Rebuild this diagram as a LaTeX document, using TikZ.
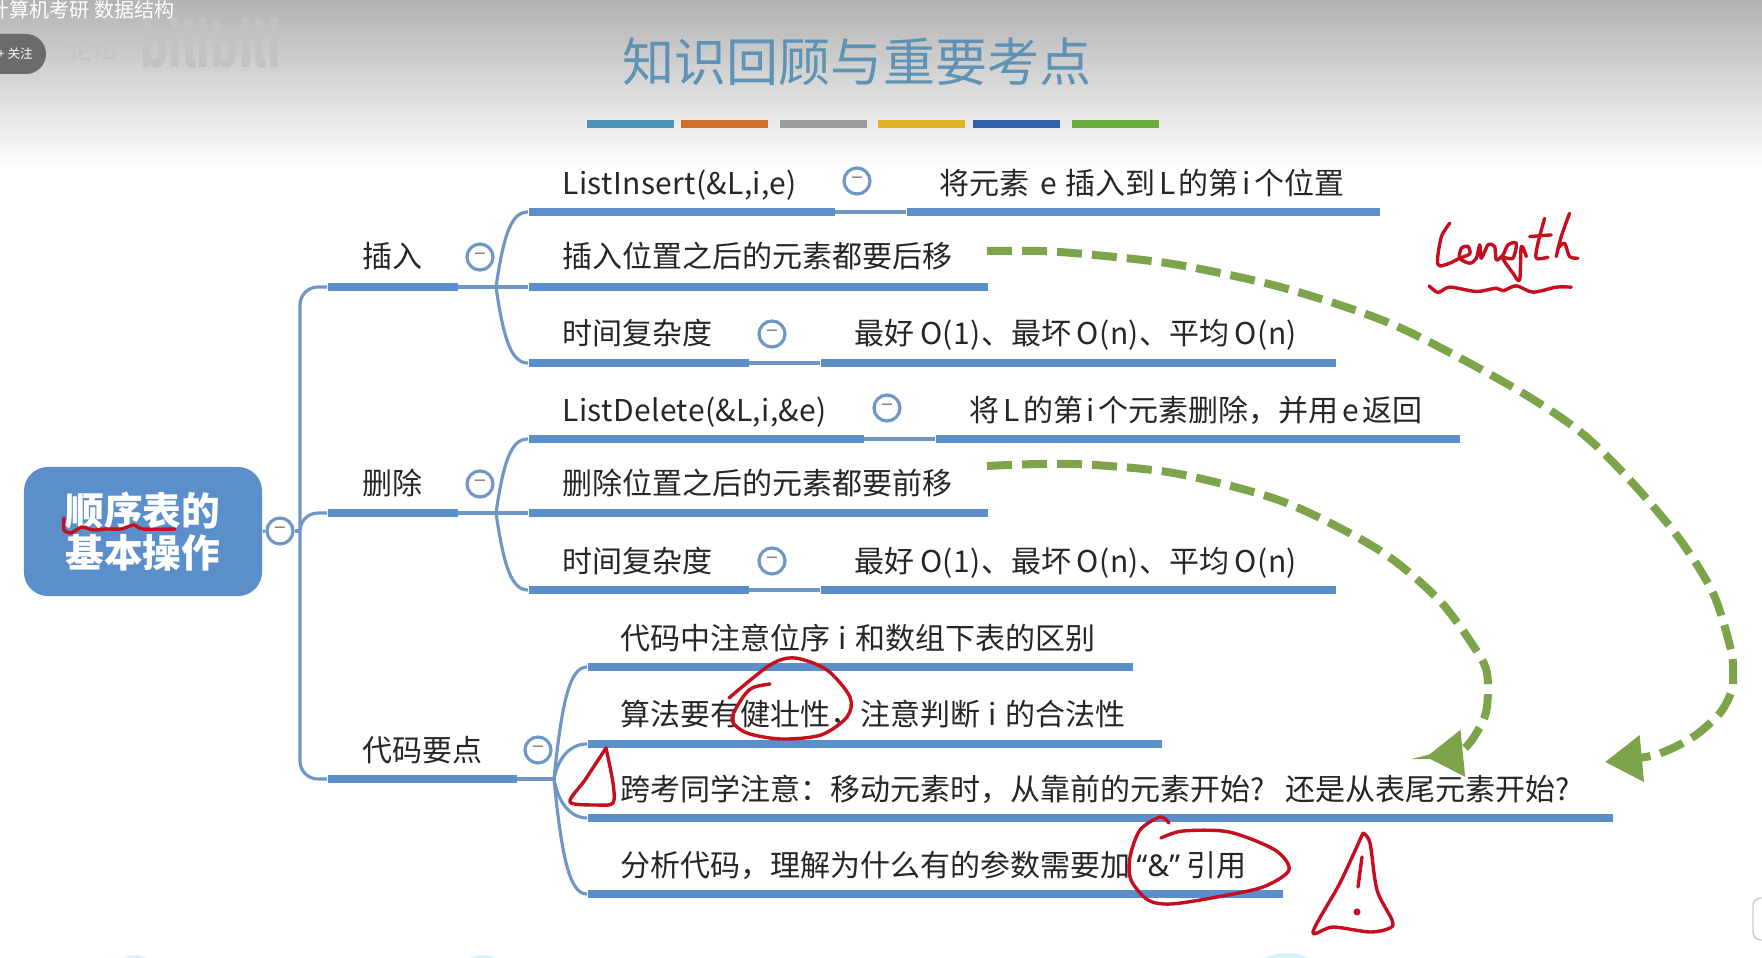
\documentclass[tikz,border=0pt]{standalone}
\usepackage{fontspec}
\setmainfont{Noto Sans CJK SC}
\newfontfamily\quotefont{Noto Sans}
\usetikzlibrary{arrows.meta,calc,positioning}
\definecolor{barblue}{HTML}{5B8FCB}
\definecolor{linkblue}{HTML}{6F97C6}
\definecolor{arrowgreen}{HTML}{7DA34B}
\definecolor{inkred}{HTML}{C50F1F}
\definecolor{titleblue}{HTML}{5F93B5}
\definecolor{stripeA}{HTML}{4F94B8}
\definecolor{stripeB}{HTML}{CF6F2B}
\definecolor{stripeC}{HTML}{9B9B9B}
\definecolor{stripeD}{HTML}{E0B224}
\definecolor{stripeE}{HTML}{2F62A8}
\definecolor{stripeF}{HTML}{6BAD3C}
\newcommand{\wideLatin}[2]{{\addfontfeature{LetterSpace=#1}#2}}
\newcommand{\tightgap}{\hspace{0.12em}}
\newcommand{\midgap}{\hspace{0.27em}}
\tikzset{
  bar/.style={fill=barblue,inner sep=0pt,minimum height=0.08cm,minimum width=#1*0.01cm,anchor=west},
  link/.style={draw=linkblue,line width=0.9pt},
  dot/.style={circle,draw=linkblue,fill=white,line width=0.9pt,inner sep=0pt,minimum size=0.26cm,text=gray,font=\fontsize{6}{6}\selectfont},
  lab/.style={anchor=west,inner sep=0pt,text=black!85,font=\fontsize{8.53}{10}\selectfont,text height=0.22cm,text depth=0.05cm,yshift=-0.025cm},
  ink/.style={draw=inkred,line width=0.034cm,line join=round,line cap=round},
  flow/.style={draw=arrowgreen,line width=0.08cm,dash pattern=on 0.25cm off 0.1cm,-{Triangle[length=0.37cm,width=0.45cm,fill=arrowgreen]}},
  stripe/.style={inner sep=0pt,minimum width=0.87cm,minimum height=0.08cm,anchor=west},
}
\begin{document}
\begin{tikzpicture}[x=0.01cm,y=-0.01cm]
\useasboundingbox (0,0) rectangle (1762,958);
\clip (0,0) rectangle (1762,958);
\shade[top color=black!30,bottom color=white] (0,0) rectangle (1762,170);

% Video overlay
\node[anchor=east,inner sep=0pt,text=white,font=\fontsize{5.7}{6}\selectfont] (course) at (175,10) {计算机考研 数据结构};
\node[anchor=west,inner sep=0pt,text=black!23,font=\fontsize{7}{8}\selectfont] (forum) at (68,50) {论坛};
\node[anchor=west,inner sep=0pt,text=black!24,xscale=0.72,font=\bfseries\fontsize{17}{18}\selectfont] (logo) at (140,43) {bilibili};
\fill[black!58,rounded corners=0.2cm] (-30,34) rectangle (46,74);
\node[anchor=west,inner sep=0pt,text=white,font=\fontsize{3.6}{4}\selectfont] (follow) at (-3,54) {+ 关注};

% Title
\node[text=titleblue,inner sep=0pt,font=\fontsize{14.8}{16}\selectfont] (title) at (857,62) {知识回顾与重要考点};
\node[stripe,fill=stripeA] at (586,124) {}; \node[stripe,fill=stripeB] at (680,124) {};
\node[stripe,fill=stripeC] at (779,124) {}; \node[stripe,fill=stripeD] at (877,124) {};
\node[stripe,fill=stripeE] at (972,124) {}; \node[stripe,fill=stripeF] at (1071,124) {};

% Root
\node[fill=barblue,rounded corners=0.24cm,minimum width=2.38cm,minimum height=1.29cm,inner sep=0pt,text=white,align=center,font=\bfseries\fontsize{11}{11.9}\selectfont] (root) at (143,531.5) {顺序表的\\基本操作};
\node[dot] (rootDot) at (280,531) {−};

% Branch heads
\node[bar=130] (insHead) at (327,287) {};
\node[bar=130] (delHead) at (327,513) {};
\node[bar=189] (codeHead) at (327,779) {};
\node[lab] (insName) at (362,257) {插入};
\node[lab] (delName) at (362,484) {删除};
\node[lab] (codeName) at (362,750) {代码要点};
\node[dot] (insDot) at (480,257) {−};
\node[dot] (delDot) at (480,484) {−};
\node[dot] (codeDot) at (538,750) {−};

% Insert rows
\node[bar=306] (insCall) at (528,212) {};
\node[bar=473] (insCallNote) at (906,212) {};
\node[bar=459] (insMove) at (528,287) {};
\node[bar=220] (insTime) at (528,363) {};
\node[bar=515] (insTimeNote) at (820,363) {};
\node[lab] (insCallText) at (562,183) {\wideLatin{1.2}{ListInsert(\&L,i,e)}};
\node[dot] (insCallDot) at (857,181) {−};
\node[lab] (insCallNoteText) at (939,183) {将元素\hspace{0.36em}e\hspace{0.28em}插入到\tightgap L\tightgap 的第\tightgap i\tightgap 个位置};
\node[lab] (insMoveText) at (562,257) {插入位置之后的元素都要后移};
\node[lab] (insTimeText) at (562,334) {时间复杂度};
\node[dot] (insTimeDot) at (772,334) {−};
\node[lab] (insTimeNoteText) at (854,334) {最好\hspace{0.18em}\wideLatin{2}{O(1)}、最坏\hspace{0.18em}\wideLatin{2}{O(n)}、平均\hspace{0.18em}\wideLatin{2}{O(n)}};

% Delete rows
\node[bar=335] (delCall) at (528,439) {};
\node[bar=524] (delCallNote) at (935,439) {};
\node[bar=459] (delMove) at (528,513) {};
\node[bar=220] (delTime) at (528,590) {};
\node[bar=515] (delTimeNote) at (820,590) {};
\node[lab] (delCallText) at (562,410) {\wideLatin{1.2}{ListDelete(\&L,i,\&e)}};
\node[dot] (delCallDot) at (887,408) {−};
\node[lab] (delCallNoteText) at (969,410) {将\tightgap L\tightgap 的第\tightgap i\tightgap 个元素删除，并用\tightgap e\tightgap 返回};
\node[lab] (delMoveText) at (562,484) {删除位置之后的元素都要前移};
\node[lab] (delTimeText) at (562,561) {时间复杂度};
\node[dot] (delTimeDot) at (772,561) {−};
\node[lab] (delTimeNoteText) at (854,561) {最好\hspace{0.18em}\wideLatin{2}{O(1)}、最坏\hspace{0.18em}\wideLatin{2}{O(n)}、平均\hspace{0.18em}\wideLatin{2}{O(n)}};

% Code rows
\node[bar=545] (codeA) at (587,667) {};
\node[bar=574] (codeB) at (587,744) {};
\node[bar=1025] (codeC) at (587,818) {};
\node[bar=695] (codeD) at (587,894) {};
\node[lab] (codeAText) at (620,638) {代码中注意位序\midgap i\midgap 和数组下表的区别};
\node[lab] (codeBText) at (620,715) {算法要有健壮性，注意判断\midgap i\midgap 的合法性};
\node[lab] (codeCText) at (620,789) {跨考同学注意：移动元素时，从靠前的元素开始?\hspace{0.7em}还是从表尾元素开始?};
\node[lab] (codeDText) at (620,865) {分析代码，理解为什么有的参数需要加{\quotefont\hspace{0.2em}“\&”\hspace{0.2em}}引用};

% Connectors
\coordinate (trunk) at (300,531);
\coordinate (insFork) at (496,287);
\coordinate (delFork) at (496,513);
\coordinate (codeFork) at (554,779);
\draw[link] (root.east) -- (rootDot.west);
\draw[link] (rootDot.east) -- (trunk);
\draw[link,rounded corners=0.18cm] (insHead.west) -| (trunk) |- (codeHead.west);
\draw[link,rounded corners=0.18cm] (trunk) |- (delHead.west);
\draw[link] (insHead.east) -- (insMove.west);
\draw[link] (delHead.east) -- (delMove.west);
\draw[link] (codeHead.east) -- (codeFork);
\draw[link] (insFork) .. controls (504,232) and (512,212) .. (insCall.west);
\draw[link] (insFork) .. controls (504,342) and (512,363) .. (insTime.west);
\draw[link] (delFork) .. controls (504,458) and (512,439) .. (delCall.west);
\draw[link] (delFork) .. controls (504,568) and (512,590) .. (delTime.west);
\draw[link] (codeFork) .. controls (562,700) and (570,667) .. (codeA.west);
\draw[link] (codeFork) .. controls (558,758) and (570,744) .. (codeB.west);
\draw[link] (codeFork) .. controls (558,802) and (570,818) .. (codeC.west);
\draw[link] (codeFork) .. controls (562,860) and (570,894) .. (codeD.west);
\draw[link] (insCall.east) -- (insCallNote.west);
\draw[link] (insTime.east) -- (insTimeNote.west);
\draw[link] (delCall.east) -- (delCallNote.west);
\draw[link] (delTime.east) -- (delTimeNote.west);

% Green arrows
\coordinate (insFrom) at (987,251);
\coordinate (insTo) at (1605,762);
\coordinate (delFrom) at (987,466);
\coordinate (delTo) at (1426,757);
\draw[flow] plot[smooth] coordinates {(insFrom) (1040,251) (1095,255) (1179,265) (1284,288) (1394,325) (1509,385) (1578,430) (1628,478) (1678,537) (1713,593) (1731,650) (1733,673) (1732,690) (1720,713) (1693,737) (1655,755) (insTo)};
\draw[flow] plot[smooth] coordinates {(delFrom) (1040,464) (1095,465) (1179,474) (1284,502) (1379,550) (1439,600) (1476,650) (1487,673) (1487,707) (1480,727) (1462,750) (delTo)};

% Red handwriting
\draw[ink] plot[smooth] coordinates {(64,518) (64,530) (71,533) (82,527) (93,530) (107,529) (121,529) (134,525) (143,529) (175,529)};
\draw[ink] plot[smooth] coordinates {(729,698) (770,665) (795,658) (827,670) (850,697) (847,717) (821,735) (781,739) (747,733) (732,720) (741,700) (752,688) (770,684)};
\draw[ink] plot[smooth] coordinates {(606,748) (585,780) (570,802) (597,805) (613,803) (613,783) (606,748)};
\draw[ink] plot[smooth] coordinates {(1169,823) (1160,817) (1140,830) (1130,857) (1131,880) (1148,900) (1171,904) (1217,897) (1263,887) (1289,870) (1275,850) (1229,832) (1183,831) (1161,838)};
\draw[ink] plot[smooth] coordinates {(1363,833) (1370,843) (1377,890) (1392,920) (1390,928) (1370,932) (1333,927) (1313,932) (1340,883) (1363,833)};
\draw[ink] (1362,857) -- (1358,887);
\fill[inkred] (1357,912) circle (0.035cm);
\begin{scope}[shift={(1300,180)},x=0.00333cm,y=-0.00333cm]
\draw[ink] plot[smooth] coordinates {(450,130) (425,170) (413,240) (420,258) (450,250) (480,235) (510,222) (505,200) (485,205) (480,235) (510,250) (530,235) (540,195) (545,235) (565,195) (585,200) (590,240) (610,225) (625,195) (650,190) (640,235) (610,235) (640,280) (660,300) (665,200) (680,230)};
\draw[ink] plot[smooth] coordinates {(735,115) (715,190) (710,235) (745,232)};
\draw[ink] (690,170) -- (755,165);
\draw[ink] plot[smooth] coordinates {(810,100) (785,170) (770,230)};
\draw[ink] plot[smooth] coordinates {(775,205) (795,190) (810,230) (835,235)};
\draw[ink] plot[smooth] coordinates {(388,318) (415,338) (450,322) (530,335) (590,325) (610,333) (650,318) (700,337) (770,322) (815,322)};
\end{scope}

% Screen edge bits
\draw[black!20,fill=white,rounded corners=0.08cm] (1753,898) rectangle (1775,940);
\fill[cyan!15] (1287,967) ellipse (0.28cm and 0.14cm);
\fill[cyan!15] (135,962) ellipse (0.14cm and 0.07cm);
\fill[cyan!15] (482,962) ellipse (0.14cm and 0.07cm);
\end{tikzpicture}
\end{document}
